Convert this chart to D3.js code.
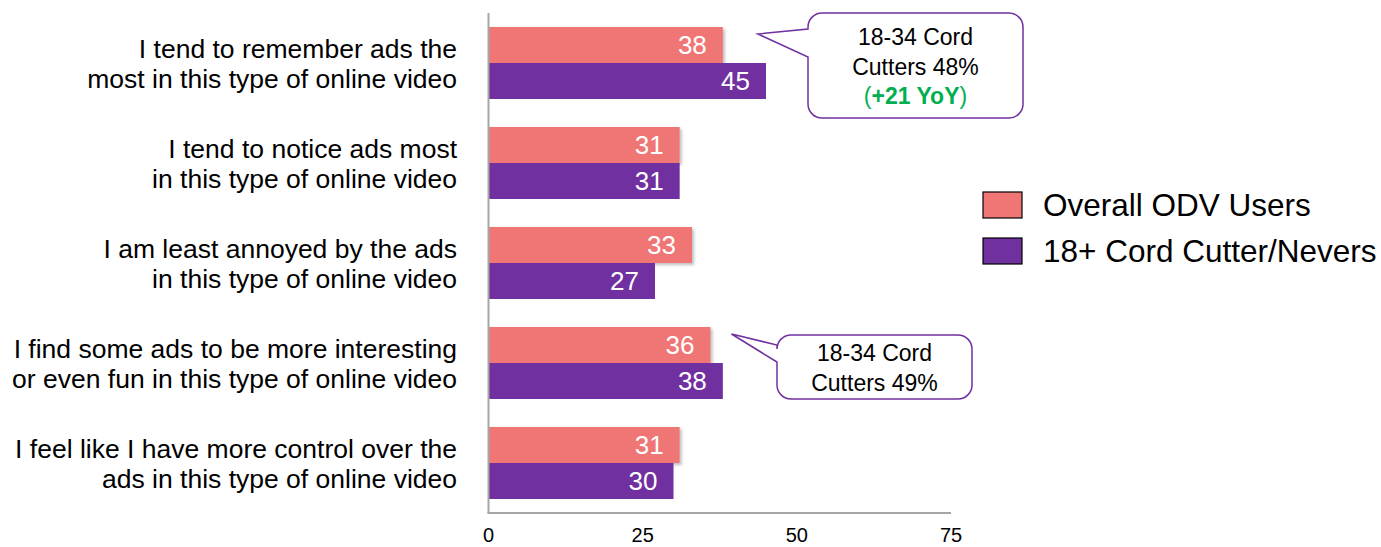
<!DOCTYPE html>
<html>
<head>
<meta charset="utf-8">
<script src="https://cdn.jsdelivr.net/npm/d3@7"></script>
<style>
  body { margin: 0; background: #fff; }
  svg { font-family: "Liberation Sans", Arial, sans-serif; display: block; }
</style>
</head>
<body>
<svg id="container"></svg>
<script>
// data
const categories = [
  "I tend to remember ads the|most in this type of online video",
  "I tend to notice ads most|in this type of online video",
  "I am least annoyed by the ads|in this type of online video",
  "I find some ads to be more interesting|or even fun in this type of online video",
  "I feel like I have more control over the|ads in this type of online video"
];
const seriesNames = ["Overall ODV Users", "18+ Cord Cutter/Nevers"];
const overall = [38, 31, 33, 36, 31];
const cordCutters = [45, 31, 27, 38, 30];
const xTicks = [0, 25, 50, 75];
const colors = ["#F07575", "#7030A0"];

// callouts pointing at the pink bar of a category
const callouts = [
  {cat: 0, lines: ["18-34 Cord", "Cutters 48%", "(+21 YoY)"]},
  {cat: 3, lines: ["18-34 Cord", "Cutters 49%"]}
];

const W = 1381, H = 547;
const svg = d3.select("#container").attr("width", W).attr("height", H);

const defs = svg.append("defs");
const f = defs.append("filter").attr("id", "shadow").attr("x", "-5%").attr("y", "-20%").attr("width", "115%").attr("height", "150%");
f.append("feDropShadow").attr("dx", 2).attr("dy", 2).attr("stdDeviation", 1.5).attr("flood-color", "#000").attr("flood-opacity", 0.25);

const x = d3.scaleLinear().domain([0, 75]).range([488.5, 951]);
const y = d3.scaleBand().domain(d3.range(categories.length)).range([13, 513])
  .paddingInner(0.28).paddingOuter(0.14);
const ySub = d3.scaleBand().domain([0, 1]).range([0, y.bandwidth()]);

const rows = categories.map((c, i) => ({cat: c, i: i, vals: [overall[i], cordCutters[i]]}));

const g = svg.append("g");

// bars
const grp = g.selectAll(".grp").data(rows).enter().append("g")
  .attr("transform", d => "translate(0," + y(d.i) + ")");

grp.selectAll("rect").data(d => d.vals.map((v, s) => ({v: v, s: s}))).enter()
  .append("rect")
  .attr("x", x(0))
  .attr("y", d => ySub(d.s))
  .attr("width", d => x(d.v) - x(0))
  .attr("height", ySub.bandwidth())
  .attr("fill", d => colors[d.s])
  .attr("filter", d => d.s === 0 ? "url(#shadow)" : null);

grp.selectAll("rect").filter(d => d.s === 1).raise();

grp.selectAll("text.val").data(d => d.vals.map((v, s) => ({v: v, s: s}))).enter()
  .append("text")
  .attr("class", "val")
  .attr("x", d => x(d.v) - 16)
  .attr("y", d => ySub(d.s) + ySub.bandwidth() / 2)
  .attr("dy", "0.36em")
  .attr("text-anchor", "end")
  .attr("font-size", 26)
  .attr("fill", "#fff")
  .text(d => d.v);

// category labels
const lab = g.selectAll(".lab").data(rows).enter().append("text")
  .attr("text-anchor", "end")
  .attr("font-size", 26.5)
  .attr("fill", "#000");
lab.each(function(d) {
  const lines = d.cat.split("|");
  const cy = y(d.i) + y.bandwidth() / 2;
  const t = d3.select(this);
  lines.forEach((ln, k) => {
    t.append("tspan")
      .attr("x", 457)
      .attr("y", cy + (k - (lines.length - 1) / 2) * 30)
      .attr("dy", "0.36em")
      .text(ln);
  });
});

// axes
g.append("line").attr("x1", x(0)).attr("x2", x(0)).attr("y1", 13).attr("y2", 513)
  .attr("stroke", "#A6A6A6").attr("stroke-width", 2);
g.append("line").attr("x1", x(0) - 1).attr("x2", x(75)).attr("y1", 513).attr("y2", 513)
  .attr("stroke", "#A6A6A6").attr("stroke-width", 2);

g.selectAll(".tick").data(xTicks).enter().append("text")
  .attr("x", d => x(d))
  .attr("y", 535)
  .attr("dy", "0.36em")
  .attr("text-anchor", "middle")
  .attr("font-size", 20)
  .attr("fill", "#000")
  .text(d => d);

// callouts
function drawCallout(c, box) {
  const tipY = y(c.cat) + ySub(0) + 7;
  const tipX = x(overall[c.cat]) + box.gap;
  const p = g.append("g");
  const path = d3.path();
  const r = 14;
  const bx = box.x, by = box.y, bw = box.w, bh = box.h;
  path.moveTo(bx + r, by);
  path.lineTo(bx + bw - r, by);
  path.arcTo(bx + bw, by, bx + bw, by + r, r);
  path.lineTo(bx + bw, by + bh - r);
  path.arcTo(bx + bw, by + bh, bx + bw - r, by + bh, r);
  path.lineTo(bx + r, by + bh);
  path.arcTo(bx, by + bh, bx, by + bh - r, r);
  path.lineTo(bx, box.p2);
  path.lineTo(tipX, tipY);
  path.lineTo(bx, box.p1);
  path.lineTo(bx, by + r);
  path.arcTo(bx, by, bx + r, by, r);
  path.closePath();
  p.append("path").attr("d", path.toString())
    .attr("fill", "#fff").attr("stroke", "#7030A0").attr("stroke-width", 1.5);

  const cx = bx + bw / 2;
  c.lines.forEach((ln, k) => {
    const t = p.append("text")
      .attr("x", cx)
      .attr("y", box.ty + k * 29.5)
      .attr("dy", "0.36em")
      .attr("text-anchor", "middle")
      .attr("font-size", 23)
      .attr("fill", "#000");
    if (ln.startsWith("(")) {
      t.attr("fill", "#00B050");
      t.append("tspan").text("(");
      t.append("tspan").attr("font-weight", "bold").text(ln.slice(1, -1));
      t.append("tspan").text(")");
    } else {
      t.text(ln);
    }
  });
}
drawCallout(callouts[0], {x: 808, y: 13, w: 215, h: 105, p1: 29, p2: 57, ty: 37, gap: 35});
drawCallout(callouts[1], {x: 777, y: 335, w: 195, h: 64, p1: 345, p2: 362, ty: 353, gap: 21});

// legend
const leg = g.selectAll(".leg").data(seriesNames).enter().append("g")
  .attr("transform", (d, i) => "translate(983," + (192 + i * 46) + ")");
leg.append("rect").attr("width", 39).attr("height", 26)
  .attr("fill", (d, i) => colors[i]).attr("stroke", "#000").attr("stroke-width", 1.2);
leg.append("text").attr("x", 60).attr("y", 13).attr("dy", "0.36em")
  .attr("font-size", 31.5).attr("fill", "#000").text(d => d);
</script>
</body>
</html>
